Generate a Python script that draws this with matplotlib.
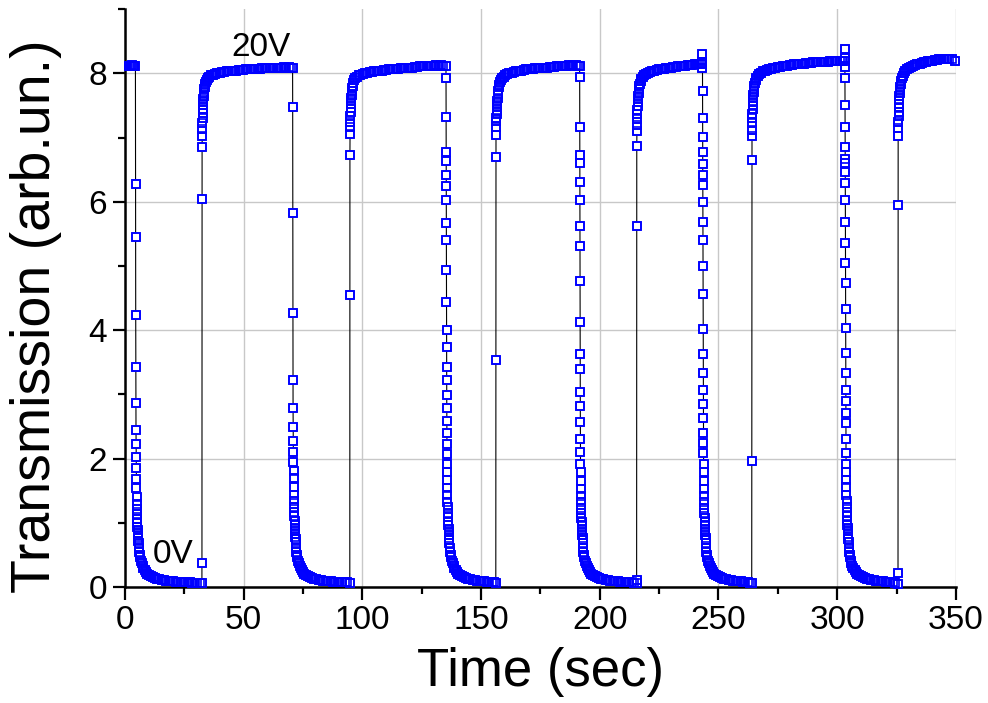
import matplotlib
matplotlib.use("Agg")
import matplotlib.pyplot as plt
from matplotlib.ticker import MultipleLocator

plt.rcParams['font.family'] = ['Liberation Sans', 'DejaVu Sans']

# (time in sec, transmission), one list per phase
high_0 = [(1.6, 8.11), (2.0, 8.12), (2.4, 8.11), (2.8, 8.13), (3.2, 8.12), (3.6, 8.12), (4.0, 8.12), (4.4, 8.12)]

fall_1 = [(4.44, 6.28), (4.48, 5.45), (4.52, 4.23), (4.56, 3.42), (4.60, 2.86), (4.64, 2.45), (4.68, 2.22),
          (4.72, 2.02), (4.76, 1.85), (4.80, 1.68), (4.84, 1.54), (4.88, 1.40),
          (4.94, 1.30), (5.00, 1.21), (5.06, 1.13), (5.12, 1.06), (5.18, 1.00), (5.24, 0.94), (5.30, 0.89),
          (5.38, 0.84), (5.46, 0.80), (5.54, 0.76), (5.62, 0.72), (5.70, 0.68),
          (5.85, 0.60), (6.0, 0.55), (6.2, 0.50), (6.4, 0.46), (6.7, 0.41), (7.0, 0.37), (7.4, 0.32), (7.8, 0.29),
          (8.3, 0.26), (8.8, 0.235), (9.4, 0.21), (10.1, 0.19), (10.9, 0.17), (11.7, 0.155), (12.6, 0.142),
          (13.5, 0.131), (14.4, 0.122), (15.4, 0.114), (16.4, 0.107), (17.4, 0.101), (18.4, 0.096), (19.4, 0.092),
          (20.4, 0.088), (21.4, 0.085), (22.4, 0.082), (23.4, 0.079), (24.4, 0.077), (25.4, 0.075), (26.4, 0.073),
          (27.4, 0.071), (28.4, 0.07), (29.4, 0.069), (30.4, 0.068), (31.4, 0.067), (32.4, 0.066)]

rise_1 = [(32.42, 0.37), (32.45, 6.05), (32.48, 6.85), (32.52, 7.03), (32.56, 7.14), (32.62, 7.23), (32.68, 7.31),
          (32.74, 7.38), (32.80, 7.44), (32.87, 7.50), (32.94, 7.55), (33.02, 7.60), (33.12, 7.65), (33.24, 7.70),
          (33.38, 7.75), (33.55, 7.79), (33.75, 7.83), (34.0, 7.87), (34.4, 7.90), (34.9, 7.93), (35.5, 7.95),
          (36.2, 7.97), (37.0, 7.98), (37.9, 7.99), (38.9, 8.00), (39.9, 8.01), (40.9, 8.02), (41.9, 8.02),
          (42.9, 8.03), (43.9, 8.03), (44.9, 8.04), (45.9, 8.04), (46.9, 8.04), (47.9, 8.05), (48.9, 8.05),
          (49.9, 8.05), (50.9, 8.06), (51.9, 8.06), (52.9, 8.06), (53.9, 8.07), (54.9, 8.07), (55.9, 8.07),
          (56.9, 8.07), (57.9, 8.08), (58.9, 8.08), (59.9, 8.08), (60.9, 8.08), (61.9, 8.09), (62.9, 8.08),
          (63.9, 8.09), (64.9, 8.09), (65.9, 8.09), (66.9, 8.10), (67.9, 8.09), (68.9, 8.10), (69.9, 8.09),
          (70.6, 8.09)]

fall_2 = [(70.64, 7.47), (70.68, 5.83), (70.72, 4.27), (70.76, 3.22), (70.80, 2.79), (70.84, 2.49), (70.88, 2.27),
          (70.92, 2.10), (70.96, 1.95), (71.00, 1.81), (71.04, 1.69), (71.08, 1.55),
          (71.14, 1.44), (71.20, 1.34), (71.26, 1.25), (71.32, 1.17), (71.38, 1.10), (71.44, 1.03), (71.50, 0.97),
          (71.57, 0.92), (71.64, 0.87), (71.72, 0.82), (71.80, 0.78), (71.88, 0.74), (71.96, 0.70),
          (72.05, 0.60), (72.2, 0.55), (72.4, 0.50), (72.6, 0.46), (72.9, 0.41), (73.2, 0.37), (73.6, 0.32),
          (74.0, 0.29), (74.5, 0.26), (75.0, 0.235), (75.6, 0.21), (76.3, 0.19), (77.1, 0.17), (77.9, 0.155),
          (78.8, 0.142), (79.7, 0.131), (80.6, 0.122), (81.6, 0.114), (82.6, 0.107), (83.6, 0.101), (84.6, 0.096),
          (85.6, 0.092), (86.6, 0.088), (87.6, 0.085), (88.6, 0.082), (89.6, 0.079), (90.6, 0.077), (91.6, 0.075),
          (92.6, 0.073), (93.6, 0.071), (94.7, 0.07)]

rise_2 = [(94.72, 4.55), (94.75, 6.73), (94.78, 7.05), (94.82, 7.16), (94.88, 7.25), (94.94, 7.33), (95.0, 7.40),
          (95.07, 7.46), (95.14, 7.52), (95.22, 7.57), (95.32, 7.62), (95.44, 7.67), (95.58, 7.72), (95.75, 7.77),
          (95.95, 7.81), (96.2, 7.85), (96.6, 7.89), (97.1, 7.92), (97.7, 7.95), (98.4, 7.97), (99.2, 7.98),
          (100.1, 7.99), (101.1, 8.00), (102.1, 8.01), (103.1, 8.02), (104.1, 8.02), (105.1, 8.03), (106.1, 8.03),
          (107.1, 8.04), (108.1, 8.04), (109.1, 8.05), (110.1, 8.05), (111.1, 8.06), (112.1, 8.06), (113.1, 8.07),
          (114.1, 8.07), (115.1, 8.07), (116.1, 8.08), (117.1, 8.08), (118.1, 8.08), (119.1, 8.09), (120.1, 8.09),
          (121.1, 8.09), (122.1, 8.10), (123.1, 8.10), (124.1, 8.11), (125.1, 8.11), (126.1, 8.11), (127.1, 8.12),
          (128.1, 8.12), (129.1, 8.12), (130.1, 8.12), (131.1, 8.13), (132.1, 8.12), (133.1, 8.13), (134.1, 8.12),
          (135.2, 8.12)]

fall_3 = [(135.23, 7.93), (135.25, 7.32), (135.27, 6.78), (135.29, 6.63), (135.31, 6.42), (135.33, 6.25),
          (135.35, 6.03), (135.37, 5.67), (135.39, 5.41), (135.41, 4.93), (135.43, 4.44), (135.45, 4.01),
          (135.47, 3.74), (135.49, 3.42), (135.51, 3.22), (135.53, 2.99), (135.55, 2.79), (135.57, 2.58),
          (135.59, 2.40), (135.61, 2.23), (135.63, 2.07), (135.65, 1.92), (135.67, 1.79), (135.69, 1.67),
          (135.71, 1.54),
          (135.78, 1.43), (135.85, 1.33), (135.92, 1.24), (135.99, 1.16), (136.06, 1.09), (136.13, 1.02),
          (136.20, 0.96), (136.28, 0.91), (136.36, 0.86), (136.44, 0.81), (136.52, 0.77), (136.60, 0.73),
          (136.68, 0.69),
          (136.8, 0.60), (137.0, 0.55), (137.2, 0.50), (137.4, 0.46), (137.7, 0.41), (138.0, 0.37), (138.4, 0.32),
          (138.8, 0.29), (139.3, 0.26), (139.8, 0.235), (140.4, 0.21), (141.1, 0.19), (141.9, 0.17), (142.7, 0.155),
          (143.6, 0.142), (144.5, 0.131), (145.4, 0.122), (146.4, 0.114), (147.4, 0.107), (148.4, 0.101),
          (149.4, 0.096), (150.4, 0.092), (151.4, 0.088), (152.4, 0.085), (153.4, 0.082), (154.4, 0.079),
          (155.3, 0.075), (156.2, 0.065)]

rise_3 = [(156.22, 3.53), (156.25, 6.70), (156.28, 7.04), (156.32, 7.17), (156.38, 7.26), (156.44, 7.31),
          (156.50, 7.37), (156.57, 7.42), (156.64, 7.48), (156.72, 7.53), (156.82, 7.57), (156.94, 7.62),
          (157.08, 7.68), (157.25, 7.73), (157.45, 7.78), (157.7, 7.82), (158.0, 7.86), (158.4, 7.89),
          (158.9, 7.92), (159.5, 7.95), (160.2, 7.97), (161.0, 7.99), (161.9, 8.00), (162.9, 8.01), (163.9, 8.02),
          (164.9, 8.03), (165.9, 8.04), (166.9, 8.04), (167.9, 8.05), (168.9, 8.06), (169.9, 8.06), (170.9, 8.07),
          (171.9, 8.07), (172.9, 8.08), (173.9, 8.08), (174.9, 8.08), (175.9, 8.09), (176.9, 8.09), (177.9, 8.09),
          (178.9, 8.10), (179.9, 8.10), (180.9, 8.10), (181.9, 8.11), (182.9, 8.11), (183.9, 8.12), (184.9, 8.12),
          (185.9, 8.12), (186.9, 8.13), (187.9, 8.12), (188.9, 8.13), (189.9, 8.13), (190.7, 8.12), (191.5, 8.12)]

fall_4 = [(191.53, 7.94), (191.55, 7.16), (191.57, 6.73), (191.59, 6.60), (191.61, 6.30), (191.63, 6.03),
          (191.65, 5.63), (191.67, 5.31), (191.69, 4.76), (191.71, 4.13), (191.73, 3.63), (191.75, 3.40),
          (191.77, 3.03), (191.79, 2.82), (191.81, 2.57), (191.83, 2.30), (191.85, 2.11), (191.87, 1.92),
          (191.89, 1.79), (191.91, 1.65), (191.93, 1.53),
          (192.0, 1.42), (192.07, 1.32), (192.14, 1.23), (192.21, 1.15), (192.28, 1.08), (192.35, 1.02),
          (192.42, 0.96), (192.50, 0.91), (192.58, 0.86), (192.66, 0.81), (192.74, 0.77), (192.82, 0.73),
          (192.90, 0.69),
          (193.0, 0.60), (193.1, 0.55), (193.3, 0.50), (193.5, 0.46), (193.8, 0.41), (194.1, 0.37), (194.5, 0.32),
          (194.9, 0.29), (195.4, 0.26), (195.9, 0.235), (196.5, 0.21), (197.2, 0.19), (198.0, 0.17), (198.8, 0.155),
          (199.7, 0.142), (200.6, 0.131), (201.5, 0.122), (202.5, 0.114), (203.5, 0.107), (204.5, 0.101),
          (205.5, 0.096), (206.5, 0.092), (207.5, 0.088), (208.5, 0.085), (209.5, 0.082), (210.5, 0.079),
          (211.5, 0.077), (212.5, 0.075), (213.5, 0.073), (214.5, 0.068), (215.5, 0.055)]

rise_4 = [(215.52, 0.11), (215.55, 5.62), (215.58, 6.87), (215.62, 7.10), (215.67, 7.20), (215.73, 7.29),
          (215.79, 7.36), (215.86, 7.43), (215.93, 7.49), (216.01, 7.55), (216.1, 7.60), (216.2, 7.65),
          (216.33, 7.70), (216.48, 7.75), (216.66, 7.80), (216.88, 7.84), (217.15, 7.88), (217.5, 7.91),
          (218.0, 7.94), (218.6, 7.97), (219.3, 7.99), (220.1, 8.00), (221.0, 8.02), (222.0, 8.03), (223.0, 8.04),
          (224.0, 8.05), (225.0, 8.06), (226.0, 8.07), (227.0, 8.07), (228.0, 8.08), (229.0, 8.09), (230.0, 8.09),
          (231.0, 8.10), (232.0, 8.10), (233.0, 8.11), (234.0, 8.11), (235.0, 8.12), (236.0, 8.12), (237.0, 8.13),
          (238.0, 8.13), (239.0, 8.13), (240.0, 8.14), (241.0, 8.14), (242.0, 8.14), (242.6, 8.15), (243.2, 8.14)]

fall_5 = [(243.22, 8.30), (243.24, 8.17), (243.26, 8.09), (243.28, 7.72), (243.30, 7.31), (243.32, 7.01),
          (243.34, 6.77), (243.36, 6.59), (243.38, 6.42), (243.40, 6.26), (243.42, 5.99), (243.44, 5.69),
          (243.46, 5.41), (243.48, 5.00), (243.50, 4.56), (243.52, 4.02), (243.54, 3.63), (243.56, 3.33),
          (243.58, 3.07), (243.60, 2.85), (243.62, 2.63), (243.64, 2.40), (243.66, 2.25), (243.68, 2.08),
          (243.70, 1.91), (243.72, 1.79), (243.74, 1.65), (243.76, 1.53),
          (243.83, 1.42), (243.90, 1.32), (243.97, 1.23), (244.04, 1.15), (244.11, 1.08), (244.18, 1.02),
          (244.25, 0.96), (244.33, 0.91), (244.41, 0.86), (244.49, 0.81), (244.57, 0.77), (244.65, 0.73),
          (244.73, 0.69),
          (244.8, 0.60), (244.95, 0.55), (245.1, 0.50), (245.3, 0.46), (245.6, 0.41), (245.9, 0.37), (246.3, 0.32),
          (246.7, 0.29), (247.2, 0.26), (247.7, 0.235), (248.3, 0.21), (249.0, 0.19), (249.8, 0.17), (250.6, 0.155),
          (251.5, 0.142), (252.4, 0.131), (253.3, 0.122), (254.3, 0.114), (255.3, 0.107), (256.3, 0.101),
          (257.3, 0.096), (258.3, 0.092), (259.3, 0.088), (260.3, 0.084), (261.3, 0.080), (262.3, 0.076),
          (263.2, 0.070), (264.0, 0.055)]

rise_5 = [(264.02, 1.97), (264.05, 6.65), (264.08, 7.02), (264.12, 7.12), (264.17, 7.22), (264.23, 7.30),
          (264.29, 7.37), (264.36, 7.44), (264.43, 7.50), (264.51, 7.56), (264.6, 7.61), (264.7, 7.66),
          (264.83, 7.71), (264.98, 7.76), (265.16, 7.81), (265.38, 7.85), (265.65, 7.89), (266.0, 7.93),
          (266.5, 7.96), (267.1, 7.99), (267.8, 8.01), (268.6, 8.03), (269.5, 8.04), (270.4, 8.05), (271.3, 8.06),
          (272.2, 8.07), (273.1, 8.08), (274.0, 8.09), (275.0, 8.10), (276.0, 8.10), (277.0, 8.11), (278.0, 8.12),
          (279.0, 8.12), (280.0, 8.13), (281.0, 8.13), (282.0, 8.14), (283.0, 8.14), (284.0, 8.15), (285.0, 8.15),
          (286.0, 8.15), (287.0, 8.16), (288.0, 8.16), (289.0, 8.16), (290.0, 8.17), (291.0, 8.17), (292.0, 8.17),
          (293.0, 8.18), (294.0, 8.18), (295.0, 8.18), (296.0, 8.18), (297.0, 8.19), (298.0, 8.19), (299.0, 8.19),
          (300.0, 8.19), (301.0, 8.20), (302.0, 8.19), (302.6, 8.20), (303.2, 8.19)]

fall_6 = [(303.22, 8.38), (303.24, 8.24), (303.26, 8.10), (303.28, 7.93), (303.30, 7.51), (303.32, 7.16),
          (303.34, 6.86), (303.36, 6.67), (303.38, 6.61), (303.40, 6.46), (303.42, 6.29), (303.44, 6.02),
          (303.46, 5.69), (303.48, 5.36), (303.50, 5.04), (303.52, 4.74), (303.54, 4.33), (303.56, 4.04),
          (303.58, 3.65), (303.60, 3.34), (303.62, 3.07), (303.64, 2.90), (303.66, 2.71), (303.68, 2.55),
          (303.70, 2.30), (303.72, 2.08), (303.74, 1.91), (303.76, 1.79), (303.78, 1.67), (303.80, 1.56),
          (303.87, 1.44), (303.94, 1.34), (304.01, 1.25), (304.08, 1.17), (304.15, 1.10), (304.22, 1.03),
          (304.29, 0.97), (304.37, 0.92), (304.45, 0.87), (304.53, 0.82), (304.61, 0.78), (304.69, 0.74),
          (304.77, 0.70),
          (304.85, 0.60), (305.0, 0.55), (305.2, 0.50), (305.4, 0.46), (305.7, 0.41), (306.0, 0.37), (306.4, 0.32),
          (306.8, 0.29), (307.3, 0.26), (307.8, 0.235), (308.4, 0.21), (309.1, 0.19), (309.9, 0.17), (310.7, 0.155),
          (311.6, 0.142), (312.5, 0.131), (313.4, 0.122), (314.4, 0.114), (315.4, 0.107), (316.4, 0.101),
          (317.4, 0.096), (318.4, 0.092), (319.4, 0.088), (320.4, 0.085), (321.4, 0.082), (322.4, 0.078),
          (323.4, 0.074), (324.4, 0.068), (325.6, 0.05)]

rise_6 = [(325.62, 0.22), (325.65, 5.95), (325.68, 7.03), (325.72, 7.15), (325.77, 7.25), (325.83, 7.33),
          (325.89, 7.40), (325.96, 7.47), (326.03, 7.53), (326.11, 7.59), (326.2, 7.64), (326.3, 7.69),
          (326.43, 7.74), (326.58, 7.79), (326.76, 7.84), (326.98, 7.88), (327.25, 7.92), (327.6, 7.96),
          (328.1, 8.00), (328.7, 8.03), (329.4, 8.06), (330.2, 8.08), (331.1, 8.10), (332.0, 8.12), (332.9, 8.13),
          (333.8, 8.14), (334.7, 8.15), (335.6, 8.16), (336.5, 8.17), (337.4, 8.18), (338.3, 8.19), (339.2, 8.19),
          (340.1, 8.20), (341.0, 8.21), (341.9, 8.21), (342.8, 8.22), (343.7, 8.22), (344.6, 8.22), (345.5, 8.23),
          (346.4, 8.23), (347.3, 8.23), (348.2, 8.22), (349.8, 8.20)]

phases = [high_0, fall_1, rise_1, fall_2, rise_2, fall_3, rise_3,
          fall_4, rise_4, fall_5, rise_5, fall_6, rise_6]
time = [p[0] for ph in phases for p in ph]
trans = [p[1] for ph in phases for p in ph]

fig = plt.figure(figsize=(9.88, 7.03), dpi=100)
ax = fig.add_axes([0.1265, 0.165, 0.841, 0.822])

blue = '#0000ff'
ax.plot(time, trans, color='black', lw=0.8, marker='s', ms=6.2, mfc='white',
        mec=blue, mew=1.2, zorder=3, clip_on=False)
# edges again on top so dense runs merge into a solid band
ax.plot(time, trans, ls='none', marker='s', ms=6.2, mfc='none',
        mec=blue, mew=1.2, zorder=4, clip_on=False)

ax.text(57.4, 8.41, '20V', fontsize=24, ha='center', va='center')
ax.text(20.1, 0.51, '0V', fontsize=24, ha='center', va='center')

ax.set_xlim(0, 350)
ax.set_ylim(0, 9)
ax.xaxis.set_major_locator(MultipleLocator(50))
ax.xaxis.set_minor_locator(MultipleLocator(25))
ax.yaxis.set_major_locator(MultipleLocator(2))
ax.yaxis.set_minor_locator(MultipleLocator(1))

ax.grid(True, which='major', color='#c8c8c8', lw=1.0)
ax.set_axisbelow(True)
ax.xaxis.get_gridlines()[-1].set_visible(False)

for s in ['top', 'right']:
    ax.spines[s].set_visible(False)
for s in ['left', 'bottom']:
    ax.spines[s].set_linewidth(1.8)

ax.tick_params(which='major', direction='out', length=9, width=1.6, labelsize=24, pad=4)
ax.tick_params(which='minor', direction='out', length=5, width=1.6)

ax.set_xlabel('Time (sec)', fontsize=38)
ax.set_ylabel('Transmission (arb.un.)', fontsize=40)
ax.xaxis.set_label_coords(0.5, -0.103)
ax.yaxis.set_label_coords(-0.076, 0.469)

fig.savefig('out.png', dpi=100)
